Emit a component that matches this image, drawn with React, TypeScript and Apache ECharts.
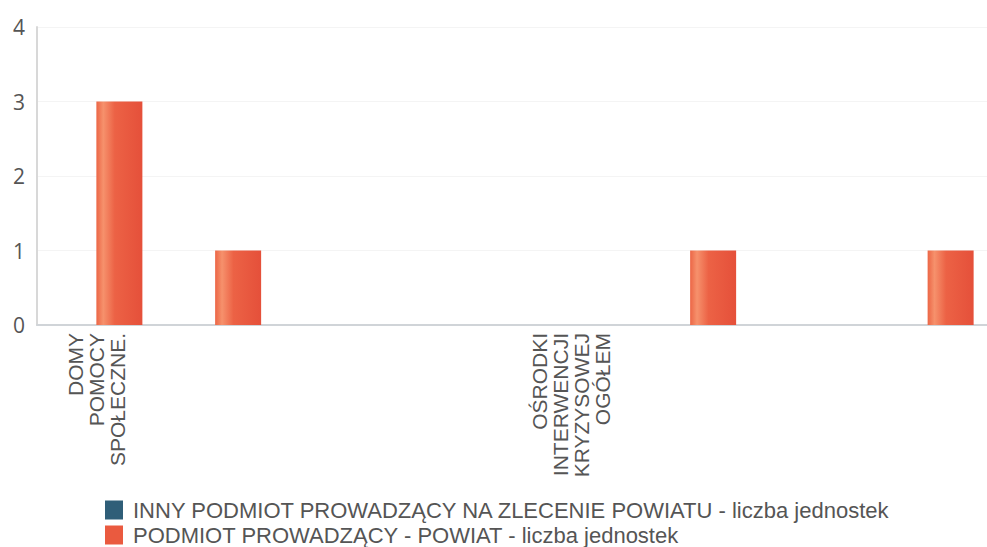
import React, { useEffect, useRef } from "react";
import * as echarts from "echarts";

const categories = [
  "DOMY\nPOMOCY\nSPOŁECZNE.",
  "ŚRODOWISKOWE\nDOMY\nSAMOPOMOCY",
  "MIESZKANIA\nCHRONIONE",
  "OŚRODKI\nWSPARCIA",
  "OŚRODKI\nINTERWENCJI\nKRYZYSOWEJ\nOGÓŁEM",
  "PLACÓWKI\nOPIEKUŃCZO-\nWYCHOWAWCZE",
  "RODZINNE\nDOMY\nDZIECKA",
  "POWIATOWE\nCENTRA\nPOMOCY\nRODZINIE",
];
const seriesNames = [
  "INNY PODMIOT PROWADZĄCY NA ZLECENIE POWIATU - liczba jednostek",
  "PODMIOT PROWADZĄCY - POWIAT - liczba jednostek",
];
const seriesColors = ["#2f5e78", "#ea5a3f"];
const innyValues = [0, 0, 0, 0, 0, 0, 0, 0];
const powiatValues = [3, 1, 0, 0, 0, 1, 0, 1];
const yTicks = [0, 1, 2, 3, 4];

export default function App() {
  const ref = useRef<HTMLDivElement>(null);
  useEffect(() => {
    document.body.style.margin = "0";
    const chart = echarts.init(ref.current!, null, { renderer: "svg" });
    const barGrad = new echarts.graphic.LinearGradient(0, 0, 1, 0, [
      { offset: 0, color: "#ec6646" },
      { offset: 0.15, color: "#f6916c" },
      { offset: 0.4, color: "#ec6245" },
      { offset: 1, color: "#e5503a" },
    ]);
    const legendBase = {
      orient: "horizontal",
      left: 105,
      itemWidth: 18,
      itemHeight: 19,
      icon: "rect",
      padding: 0,
      textStyle: {
        fontFamily: "Liberation Sans",
        fontSize: 22,
        color: "#555",
        padding: [0, 0, 0, 5],
      },
    };
    chart.setOption({
      animation: false,
      backgroundColor: "#ffffff",
      grid: { left: 37, right: -9, top: 27, bottom: 222, containLabel: false },
      legend: [
        {
          ...legendBase,
          top: 499,
          data: [{ name: seriesNames[0], itemStyle: { color: seriesColors[0] } }],
        },
        {
          ...legendBase,
          top: 524,
          data: [{ name: seriesNames[1], itemStyle: { color: seriesColors[1] } }],
        },
      ],
      xAxis: {
        type: "category",
        data: categories,
        axisLine: { lineStyle: { color: "#d0d4d8", width: 2 } },
        axisTick: { show: false },
        axisLabel: {
          interval: 3,
          rotate: 90,
          margin: 8,
          fontFamily: "Liberation Sans",
          fontSize: 21,
          lineHeight: 21,
          color: "#555",
        },
      },
      yAxis: {
        type: "value",
        min: yTicks[0],
        max: yTicks[yTicks.length - 1],
        interval: 1,
        axisLine: { show: true, lineStyle: { color: "#d8d8d8", width: 2 } },
        axisTick: { show: false },
        splitLine: { lineStyle: { color: "#f4f4f4" } },
        axisLabel: {
          margin: 12,
          fontFamily: "Open Sans",
          fontSize: 21,
          color: "#555",
        },
      },
      series: [
        {
          name: seriesNames[0],
          type: "bar",
          data: innyValues,
          barWidth: 46,
          barGap: "0%",
          itemStyle: { color: seriesColors[0] },
        },
        {
          name: seriesNames[1],
          type: "bar",
          data: powiatValues,
          barWidth: 46,
          barGap: "0%",
          itemStyle: { color: barGrad },
        },
      ],
    });
    return () => chart.dispose();
  }, []);
  return <div ref={ref} style={{ width: 987, height: 547 }} />;
}
